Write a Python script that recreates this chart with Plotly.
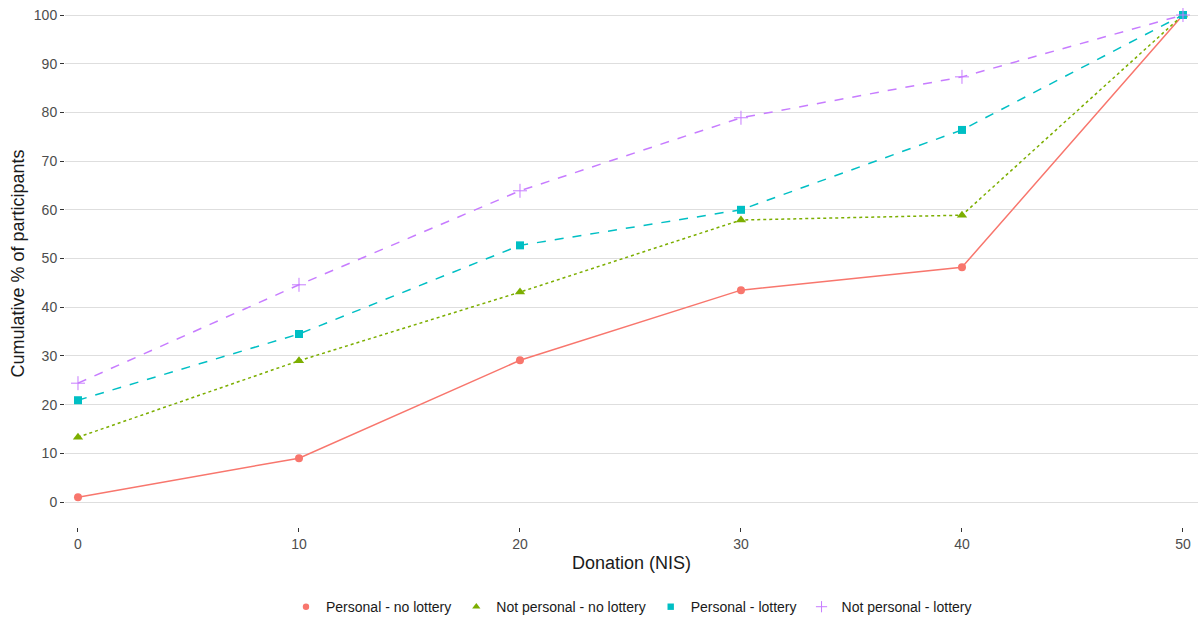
import plotly.graph_objects as go

donation = [0, 10, 20, 30, 40, 50]
series_names = ["Personal - no lottery", "Not personal - no lottery", "Personal - lottery", "Not personal - lottery"]
personal_no_lottery = [1.0, 9.0, 29.1, 43.5, 48.2, 100]
not_personal_no_lottery = [13.3, 29.0, 43.1, 57.9, 58.9, 100]
personal_lottery = [20.9, 34.5, 52.7, 60.0, 76.4, 100]
not_personal_lottery = [24.4, 44.6, 63.9, 78.9, 87.3, 100]
x_ticks = [0, 10, 20, 30, 40, 50]
y_ticks = [0, 10, 20, 30, 40, 50, 60, 70, 80, 90, 100]

values = [personal_no_lottery, not_personal_no_lottery, personal_lottery, not_personal_lottery]
colors = ["#F8766D", "#7CAE00", "#00BFC4", "#C77CFF"]
dashes = ["solid", "dot", "dash", "dash"]
symbols = ["circle", "triangle-up", "square", "cross-thin"]
base_sizes = [8, 9, 8, 10]


def make_marker(c, s, size):
    if s == "cross-thin":
        return dict(color=c, size=size, symbol=s, line=dict(color=c, width=1))
    return dict(color=c, size=size, symbol=s)


fig = go.Figure()
for name, vals, c, d, s, sz in zip(series_names, values, colors, dashes, symbols, base_sizes):
    fig.add_trace(go.Scatter(
        x=donation, y=vals, name=name, mode="lines+markers",
        line=dict(color=c, dash=d, width=1.5), marker=make_marker(c, s, sz), showlegend=False,
    ))
# legend entries (markers only, like the reference)
for name, c, s, sz in zip(series_names, colors, symbols, base_sizes):
    fig.add_trace(go.Scatter(x=[None], y=[None], name=name, mode="markers",
                             marker=make_marker(c, s, sz * 0.8)))

fig.update_layout(
    width=1200, height=621,
    margin=dict(l=65, r=2, t=0, b=94, pad=0, autoexpand=False),
    plot_bgcolor="white", paper_bgcolor="white",
    font=dict(family="Liberation Sans, Arial, sans-serif", size=14, color="#4d4d4d"),
    legend=dict(orientation="h", x=0.5, xanchor="center", y=-0.152, yanchor="middle",
                font=dict(size=14, color="#1a1a1a"), itemwidth=30, tracegroupgap=0),
    showlegend=True,
)
fig.update_xaxes(
    range=[-0.588, 50.68], tickvals=x_ticks, showgrid=False, zeroline=False, automargin=False,
    ticks="outside", ticklen=4, tickcolor="#333333",
    title=dict(text="Donation (NIS)", font=dict(size=18, color="#1a1a1a"), standoff=5),
    tickfont=dict(size=14, color="#4d4d4d"),
)
fig.update_yaxes(
    range=[-5.13, 103.08], tickvals=y_ticks, showgrid=True, gridcolor="#dedede", gridwidth=1,
    zeroline=False, ticks="outside", ticklen=4, tickcolor="#333333", automargin=False,
    title=dict(text="Cumulative % of participants", font=dict(size=18, color="#1a1a1a"), standoff=4),
    tickfont=dict(size=14, color="#4d4d4d"),
)
fig.write_html("out.html", config={"displayModeBar": False},
               post_script="document.body.style.margin='0';document.documentElement.style.overflow='hidden';")
